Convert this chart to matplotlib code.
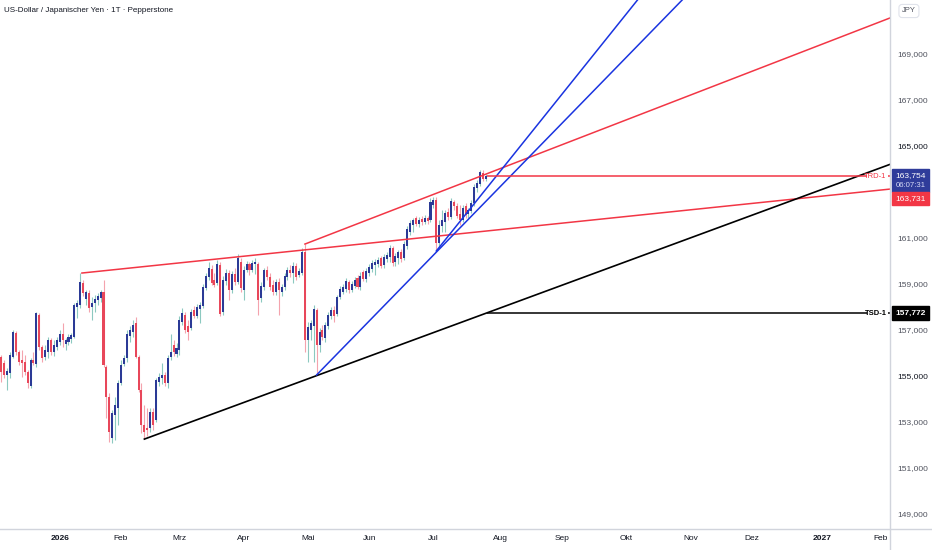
import numpy as np
import pandas as pd
import matplotlib
matplotlib.use('Agg')
import matplotlib.pyplot as plt
from matplotlib.patches import Rectangle

plt.rcParams['font.family'] = ['Liberation Sans', 'DejaVu Sans']

# USD/JPY Tageskerzen (Pepperstone), 05.12.2025 - 27.07.2026
START, END = '2025-12-05', '2026-07-27'

opens = [
    155.87, 155.61, 155.09, 155.17, 155.87, 156.91, 156.09, 155.74, 155.65, 155.22,
    154.61, 155.74, 155.57, 157.70, 156.30, 155.87, 156.09, 156.61, 156.09,
    156.30, 156.52, 156.87, 156.43, 156.52, 156.65, 156.74, 158.04, 158.13, 159.09,
    158.39, 158.65, 158.04, 158.22, 158.35, 158.43, 158.70, 155.43, 154.13, 152.35,
    153.35, 153.65, 154.74, 155.57, 155.83, 156.78, 156.96, 157.35, 155.87, 154.43,
    152.91, 152.78, 152.78, 153.48, 153.13, 154.78, 154.96, 155.09, 154.74, 155.87,
    156.39, 156.00, 156.17, 157.39, 157.70, 157.22, 157.13, 157.91, 157.65, 157.96,
    158.09, 158.87, 159.35, 159.70, 159.22, 159.09, 159.87, 157.83, 159.17, 159.52,
    158.78, 159.48, 159.13, 160.00, 158.78, 159.65, 159.91, 159.65, 159.91, 159.91,
    158.43, 158.91, 159.65, 159.35, 159.00, 158.70, 159.13, 158.70, 158.91, 159.35,
    159.65, 159.52, 159.83, 159.43, 159.52, 160.43, 156.61, 157.04, 157.22, 157.91,
    156.39, 157.04, 156.70, 157.22, 157.65, 157.91, 157.74, 158.48, 158.70, 158.83,
    159.13, 158.78, 158.96, 159.30, 158.91, 159.57, 159.26, 159.52, 159.70, 159.87,
    159.91, 160.17, 159.87, 160.13, 160.22, 160.61, 160.00, 160.17, 160.43, 160.17,
    160.70, 161.30, 161.61, 161.91, 161.65, 161.87, 161.74, 161.91, 161.83, 162.48,
    162.70, 160.83, 161.57, 161.74, 162.17, 161.96, 162.61, 162.43, 162.09, 161.83,
    162.43, 162.09, 162.22, 162.57, 163.22, 163.39, 163.87, 163.61,
]
highs = [
    155.96, 155.74, 155.39, 156.09, 157.04, 157.00, 156.17, 156.17, 155.96, 155.30,
    155.83, 156.09, 157.83, 157.78, 156.39, 156.39, 156.74, 156.70, 156.61,
    156.74, 157.04, 157.35, 156.70, 156.87, 156.91, 158.22, 158.35, 159.52, 159.22,
    158.78, 158.78, 158.48, 158.57, 158.65, 158.78, 159.22, 155.52, 154.30, 153.57,
    154.13, 154.87, 155.74, 155.96, 157.04, 157.22, 157.48, 157.61, 155.96, 154.74,
    153.78, 153.65, 153.65, 153.65, 154.96, 155.17, 155.61, 155.22, 155.96, 156.87,
    156.61, 156.48, 157.65, 158.00, 157.83, 157.48, 157.96, 158.09, 158.17, 158.26,
    159.04, 159.52, 160.00, 159.87, 159.52, 160.09, 160.00, 159.39, 159.70, 159.65,
    159.61, 159.74, 160.35, 160.17, 159.83, 160.04, 160.00, 160.09, 160.17, 160.00,
    159.13, 159.74, 159.83, 159.52, 159.22, 159.26, 159.30, 159.04, 159.52, 159.78,
    159.87, 160.00, 159.96, 159.74, 160.61, 160.78, 157.39, 157.48, 158.13, 158.00,
    157.13, 157.26, 157.39, 157.83, 158.04, 158.09, 158.57, 158.96, 159.04, 159.30,
    159.22, 159.17, 159.35, 159.43, 159.57, 159.65, 159.74, 159.91, 160.09, 160.13,
    160.22, 160.26, 160.35, 160.43, 160.74, 160.70, 160.39, 160.52, 160.57, 160.91,
    161.57, 161.83, 161.91, 162.00, 161.96, 162.00, 162.04, 162.00, 162.78, 162.83,
    162.83, 161.83, 162.26, 162.26, 162.35, 162.78, 162.70, 162.57, 162.48, 162.48,
    162.57, 162.35, 162.70, 163.39, 163.57, 164.00, 164.00, 163.83,
]
lows = [
    154.78, 154.96, 154.43, 154.96, 155.83, 155.96, 155.52, 155.00, 155.09, 154.52,
    154.52, 155.52, 155.43, 156.17, 155.65, 155.74, 155.83, 155.96, 155.91,
    156.17, 156.39, 156.30, 156.17, 156.39, 156.48, 156.70, 157.57, 158.00, 158.52,
    158.13, 157.83, 157.48, 157.83, 158.13, 158.26, 155.43, 153.22, 152.17, 152.13,
    152.26, 152.91, 154.65, 155.48, 155.65, 156.52, 156.74, 155.83, 154.35, 152.57,
    152.30, 152.43, 152.61, 152.70, 153.04, 154.61, 154.70, 154.61, 154.52, 155.74,
    155.91, 155.87, 155.96, 157.26, 156.91, 156.61, 157.04, 157.57, 157.57, 157.35,
    158.00, 158.78, 159.22, 159.00, 158.91, 159.00, 157.65, 157.70, 159.00, 158.35,
    158.65, 159.00, 159.04, 158.70, 158.35, 159.57, 159.43, 159.57, 159.48, 157.70,
    158.26, 158.78, 159.22, 158.78, 158.57, 158.57, 157.70, 158.52, 158.78, 159.22,
    159.35, 159.09, 159.22, 159.35, 159.43, 156.09, 155.65, 156.61, 155.65, 155.09,
    156.09, 156.61, 156.52, 157.09, 157.52, 157.39, 157.65, 158.39, 158.61, 158.70,
    158.65, 158.70, 158.87, 158.83, 158.78, 159.17, 159.13, 159.39, 159.57, 159.43,
    159.78, 159.74, 159.74, 160.00, 160.00, 159.83, 159.83, 159.91, 160.00, 160.09,
    160.57, 161.17, 161.30, 161.57, 161.52, 161.61, 161.65, 161.65, 161.74, 162.35,
    160.48, 160.70, 161.30, 161.30, 161.83, 161.87, 162.26, 161.91, 161.61, 161.74,
    161.91, 161.91, 162.13, 162.43, 163.04, 163.30, 163.52, 163.52,
]
closes = [
    155.22, 155.09, 155.26, 155.96, 156.96, 156.09, 155.65, 155.61, 155.22, 154.74,
    155.74, 155.61, 157.78, 156.30, 155.83, 156.17, 156.61, 156.09, 156.39,
    156.61, 156.87, 156.61, 156.61, 156.74, 156.83, 158.13, 158.22, 159.13, 158.65,
    158.70, 158.00, 158.22, 158.39, 158.52, 158.70, 155.52, 154.13, 152.61, 153.43,
    153.78, 154.74, 155.52, 155.83, 156.87, 157.04, 157.26, 155.87, 154.43, 152.91,
    152.61, 152.70, 153.48, 152.91, 154.87, 155.00, 155.09, 154.74, 155.83, 156.09,
    156.09, 156.26, 157.48, 157.78, 157.04, 156.96, 157.83, 157.65, 158.04, 158.13,
    158.91, 159.39, 159.74, 159.09, 159.00, 159.91, 157.74, 159.22, 159.52, 158.78,
    159.48, 159.13, 160.17, 158.87, 159.65, 159.91, 159.65, 159.96, 160.00, 158.35,
    158.96, 159.65, 159.35, 158.91, 158.70, 159.13, 158.78, 158.91, 159.39, 159.65,
    159.52, 159.83, 159.35, 159.61, 160.43, 156.61, 157.17, 157.35, 157.96, 156.39,
    156.96, 156.74, 157.26, 157.70, 157.91, 157.65, 158.48, 158.83, 158.91, 159.17,
    158.78, 159.04, 159.22, 158.91, 159.39, 159.26, 159.61, 159.78, 159.96, 160.00,
    160.09, 159.83, 160.22, 160.30, 160.61, 159.96, 160.26, 160.43, 160.13, 160.78,
    161.43, 161.70, 161.83, 161.65, 161.83, 161.74, 161.91, 161.78, 162.61, 162.70,
    160.83, 161.61, 161.83, 162.13, 161.96, 162.65, 162.43, 162.00, 161.83, 162.35,
    162.04, 162.26, 162.57, 163.26, 163.43, 163.91, 163.61, 163.754,
]

# Zeichnungen (Ankerpunkte: Bar-Index ab 01.01.2026, Kurs)
red_a_x, red_a_y = [8.6, 285.4], [159.52, 163.17]
red_b_x, red_b_y = [85.0, 285.4], [160.78, 170.61]
black_x, black_y = [30.0, 147.0], [152.30, 157.772]
blue1_x, blue1_y = [130.0, 198.9], [160.48, 171.39]
blue2_x, blue2_y = [89.0, 214.2], [155.09, 171.39]
trd_level, trd_start = 163.731, 147.3
tsd_level, tsd_start = 157.772, 147.3
last_price, countdown = 163.754, '06:07:31'

y_ticks = [169, 167, 165, 161, 159, 157, 155, 153, 151, 149]
bold_ticks = [165, 155]
monate = ['Jan', 'Feb', 'Mrz', 'Apr', 'Mai', 'Jun', 'Jul', 'Aug', 'Sep', 'Okt', 'Nov', 'Dez']

UP, UP_WICK = '#2b3a96', '#8cc9c0'
DN, DN_WICK = '#e8475a', '#f4a3ad'
RED, BLUE = '#f23645', '#1a34e0'
TXT, GRID = '#131722', '#d1d4dc'
FS = 6.0

W, H = 932, 550
fig = plt.figure(figsize=(W / 100, H / 100), dpi=100)
ax = fig.add_axes([0, 21 / H, 890 / W, 529 / H])

cal = pd.bdate_range('2025-12-01', '2027-03-31')
origin = cal.get_loc(pd.Timestamp('2026-01-01'))
dates = pd.bdate_range(START, END)
pos = cal.get_indexer(dates) - origin

o, hi, lo, c = map(np.array, (opens, highs, lows, closes))
up = c >= o
ax.vlines(pos[up], lo[up], hi[up], color=UP_WICK, lw=0.8, zorder=1)
ax.vlines(pos[~up], lo[~up], hi[~up], color=DN_WICK, lw=0.8, zorder=1)
body = np.maximum(np.abs(c - o), 0.025)
ax.bar(pos[up], body[up], bottom=np.minimum(o, c)[up], width=0.7, color=UP, lw=0, zorder=2)
ax.bar(pos[~up], body[~up], bottom=np.minimum(o, c)[~up], width=0.7, color=DN, lw=0, zorder=2)

x_max = 285.4


def ray(xs, ys, **kw):
    # Trendlinie nach rechts bis zum Rand verlaengert
    m = (ys[1] - ys[0]) / (xs[1] - xs[0])
    ax.plot([xs[0], x_max + 5], [ys[0], ys[0] + m * (x_max + 5 - xs[0])], **kw)


ray(red_a_x, red_a_y, color=RED, lw=1.1, zorder=3)
ray(red_b_x, red_b_y, color=RED, lw=1.1, zorder=3)
ray(black_x, black_y, color='black', lw=1.2, zorder=3)
ray(blue1_x, blue1_y, color=BLUE, lw=1.1, zorder=3)
ray(blue2_x, blue2_y, color=BLUE, lw=1.1, zorder=3)

ax.hlines(trd_level, trd_start, 277.5, color=RED, lw=1.1, zorder=3)
ax.hlines(trd_level, 284.8, x_max, color=RED, lw=1.1, zorder=3)
ax.text(284.2, trd_level, 'TRD-1', color=RED, fontsize=5.5, ha='right', va='center', zorder=4)
ax.hlines(tsd_level, tsd_start, 277.5, color='black', lw=1.1, zorder=3)
ax.hlines(tsd_level, 284.8, x_max, color='black', lw=1.1, zorder=3)
ax.text(284.2, tsd_level, 'TSD-1', color='black', fontsize=5.5, fontweight='bold',
        ha='right', va='center', zorder=4)

ax.set_xlim(-19.46, x_max)
ax.set_ylim(148.391, 171.391)
ax.axis('off')

# Rahmenlinien der Skalen
fig.add_artist(plt.Line2D([0, 1], [21 / H, 21 / H], color=GRID, lw=1))
fig.add_artist(plt.Line2D([890 / W, 890 / W], [0, 1], color=GRID, lw=1))


def fy(price):
    return fig.transFigure.inverted().transform(ax.transData.transform((0, price)))[1]


def fmt(v):
    return f'{v:.3f}'.replace('.', ',')


for t in y_ticks:
    fig.text(897 / W, fy(t), fmt(t), fontsize=FS, va='center', ha='left',
             color=TXT if t in bold_ticks else '#50535e')

fig.text(902 / W, 1 - 11 / H, 'JPY', fontsize=5.5, va='center', ha='left', color='#50535e',
         bbox=dict(boxstyle='round,pad=0.4', fc='white', ec='#e0e3eb', lw=0.8))

# Preis-Labels auf der Skala
px = 1 / H
yb = fy(last_price)
fig.add_artist(Rectangle((892 / W, yb - 16 * px), 37 / W, 23 * px, transform=fig.transFigure,
                         color='#2f3c9a', zorder=5))
fig.text(910.5 / W, yb, fmt(last_price), fontsize=FS, color='white', ha='center', va='center', zorder=6)
fig.text(910.5 / W, yb - 10 * px, countdown, fontsize=5.6, color='#d5d9f5', ha='center', va='center', zorder=6)
fig.add_artist(Rectangle((892 / W, yb - 29 * px), 37 / W, 13 * px, transform=fig.transFigure,
                         color=RED, zorder=5))
fig.text(910.5 / W, yb - 22.5 * px, fmt(trd_level), fontsize=FS, color='white', ha='center', va='center', zorder=6)

ys = fy(tsd_level)
fig.add_artist(Rectangle((892 / W, ys - 7 * px), 37 / W, 14 * px, transform=fig.transFigure,
                         color='black', zorder=5))
fig.text(910.5 / W, ys, fmt(tsd_level), fontsize=FS, color='white', fontweight='bold',
         ha='center', va='center', zorder=6)

# Zeitachse
ticks = pd.date_range('2026-01-01', '2027-02-01', freq='MS')
for d in ticks:
    b = cal.searchsorted(d) - origin
    xf = ax.transData.transform((b, 150))[0] / fig.bbox.width
    if d.month == 1:
        fig.text(xf + 3 / W, 11 / H, str(d.year), fontsize=FS, fontweight='bold', color=TXT,
                 ha='center', va='center')
    else:
        fig.text(xf, 11 / H, monate[d.month - 1], fontsize=FS, color=TXT, ha='center', va='center')

fig.text(4 / W, 1 - 11 / H, 'US-Dollar / Japanischer Yen · 1T · Pepperstone', fontsize=5.8,
         color=TXT, ha='left', va='center')

fig.savefig('out.png', dpi=100, facecolor='white')
